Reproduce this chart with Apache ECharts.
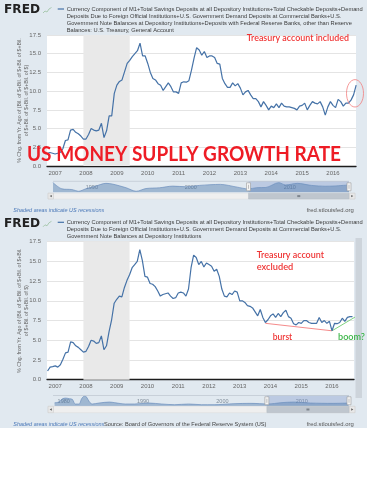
<!DOCTYPE html>
<html>
<head>
<meta charset="utf-8">
<script src="https://cdn.jsdelivr.net/npm/echarts@6/dist/echarts.min.js"></script>
<style>
html,body{margin:0;padding:0;background:#fff;}
#c{width:367px;height:480px;background:linear-gradient(#e1e9f0 0,#e1e9f0 428px,#fff 428px,#fff 480px);}
</style>
</head>
<body>
<div id="c"></div>
<script>
// ---------------- data ----------------
const seriesStartYear = 2006, seriesStartMonth = 10;
const xTickYears = [2007, 2008, 2009, 2010, 2011, 2012, 2013, 2014, 2015, 2016];
const yTickStep = 2.5, yMin = 0, yMax = 17.5;
// Treasury account included (Oct 2006 .. Oct 2016)
const topValues = [
  1.7, 1.8, 1.7,
  1.6, 1.7, 1.8, 2.3, 3.4, 3.5, 4.8, 4.9, 4.5, 4.3, 4.0, 3.6,
  3.6, 4.2, 5.0, 4.8, 4.7, 4.8, 5.7, 3.8, 4.7, 6.7, 6.7, 9.7,
  10.8, 11.3, 11.5, 12.6, 13.7, 14.1, 14.6, 15.0, 15.4, 16.4, 14.7, 14.7,
  13.7, 12.5, 11.7, 11.5, 11.0, 10.8, 10.1, 10.6, 11.1, 10.6, 9.9, 9.9,
  9.7, 11.1, 11.25, 11.2, 11.4, 12.8, 14.4, 15.8, 15.5, 14.8, 15.3, 14.5,
  14.7, 14.7, 14.5, 13.7, 13.6, 11.7, 11.0, 10.5, 10.5, 11.1, 10.7, 11.0,
  10.4, 9.5, 9.9, 10.1, 9.5, 9.0, 9.0, 8.6, 7.9, 8.6, 8.1, 7.5,
  8.0, 7.8, 8.3, 7.8, 8.4, 8.0, 7.9, 7.9, 7.8, 7.7, 7.5, 8.0,
  8.1, 8.4, 7.5, 8.1, 8.6, 8.4, 8.3, 8.6, 7.9, 6.8, 7.9, 8.6,
  8.1, 7.8, 8.9, 8.6, 8.0, 8.4, 8.4, 8.8, 9.5, 10.8
];
// Treasury account excluded (Oct 2006 .. Sep 2016)
const bottomValues = [
  1.1, 1.6, 1.65,
  1.75, 1.6, 1.9, 2.6, 3.4, 3.5, 4.8, 4.7, 4.3, 4.1, 3.8, 3.5,
  3.6, 4.2, 5.0, 4.9, 4.6, 4.7, 5.55, 3.8, 4.3, 6.1, 7.6, 9.7,
  10.2, 10.6, 10.5, 11.7, 12.6, 13.3, 14.2, 14.6, 15.0, 16.5, 15.1, 13.1,
  13.0, 12.2, 12.1, 11.8, 11.25, 10.6, 10.8, 10.9, 11.0, 10.6, 10.3, 10.4,
  11.0, 11.1, 11.0, 10.6, 11.5, 14.2, 15.8, 15.5, 14.6, 15.0, 14.3, 14.8,
  14.6, 14.4, 13.75, 14.0, 13.1, 11.5, 10.6, 10.5, 11.0, 10.8, 11.25, 11.1,
  10.0, 10.0, 9.8, 9.4, 9.3, 9.1, 8.6, 8.1, 8.9, 7.9, 7.25, 7.6,
  8.1, 8.35, 7.9, 8.4, 8.0, 8.5, 8.8, 8.0, 7.8, 7.1, 6.95, 7.25,
  7.15, 7.5, 7.5, 7.25, 7.15, 7.15, 7.15, 7.9, 7.25, 7.5, 7.15, 7.4,
  6.2, 7.15, 7.1, 7.25, 7.8, 7.4, 7.9, 8.0, 8.0
];
const recession = ['2007-12', '2009-06'];
const burstLine = [['2013-11', 7.15], ['2016-01', 6.2]];
const boomLine = [['2016-01', 6.2], ['2016-12', 8.33]];
// navigator (full history, coarse)
const navTopYears  = [1987.0, 1987.9, 1988.9, 1989.6, 1990.3, 1991.3, 1992.35, 1993.0, 1994.4, 1995.4, 1996.4, 1997.75, 1999.1, 2000.5, 2001.8, 2003.9, 2005.6, 2006.7, 2007.6, 2008.5, 2009.8, 2010.5, 2011.7, 2013.1, 2014.5, 2015.4, 2016.9];
const navTopValues = [16.4, 1.7, 0.1, -4.0, 1.7, 8.2, 14.7, 13.1, 4.2, -4.0, 2.5, 4.2, 8.2, 6.6, 9.9, 12.3, 5.8, 1.7, 4.5, 5.0, 16.4, 11.0, 14.7, 9.9, 8.0, 8.5, 11.0];
const navBottomYears  = [1980.0, 1980.5, 1981.0, 1981.4, 1981.9, 1982.25, 1982.6, 1983.1, 1983.4, 1983.75, 1984.0, 1984.4, 1984.75, 1985.6, 1986.9, 1987.6, 1988.9, 1990.1, 1991.9, 1993.5, 1995.1, 1996.9, 1998.5, 2000.1, 2002.6, 2004.75, 2006.9, 2008.5, 2010.1, 2012.25, 2015.1, 2017.0];
const navBottomValues = [10, 16.5, 41.8, 46.9, 41.8, 36.7, 1.3, 1.3, 41.8, 62.0, 57.0, 16.5, 1.3, 8.9, 16.5, 11.4, 1.3, 1.3, 8.9, 1.3, -3.8, 1.3, -3.8, -3.8, 3.8, 6.4, 1.3, 11.4, 16.5, 8.9, 6.4, 8.9];
const navLabelYears = [1980, 1990, 2000, 2010];
const navTopWindow = [2006.75, 2016.9];
const navBottomWindow = [2006.75, 2017.1];

const legendTop = [
  'Currency Component of M1+Total Savings Deposits at all Depository Institutions+Total Checkable Deposits+Demand',
  'Deposits Due to Foreign Official Institutions+U.S. Government Demand Deposits at Commercial Banks+U.S.',
  'Government Note Balances at Depository Institutions+Deposits with Federal Reserve Banks, other than Reserve',
  'Balances: U.S. Treasury, General Account'
];
const legendBottom = [
  'Currency Component of M1+Total Savings Deposits at all Depository Institutions+Total Checkable Deposits+Demand',
  'Deposits Due to Foreign Official Institutions+U.S. Government Demand Deposits at Commercial Banks+U.S.',
  'Government Note Balances at Depository Institutions'
];
const yNameTop = '% Chg. from Yr. Ago of (Bil. of $+Bil. of $+Bil. of $+Bil.\nof $+Bil. of $+Bil. of $+Bil. of $)';
const yNameBottom = '% Chg. from Yr. Ago of (Bil. of $+Bil. of $+Bil. of $+Bil.\nof $+Bil. of $+Bil. of $)';
const bigTitle = 'US MONEY SUPLLY GROWTH RATE';

// ---------------- helpers ----------------
function ym(s) { const [y, m] = s.split('-').map(Number); return y + (m - 1) / 12; }
function monthly(vals) { return vals.map((v, i) => [seriesStartYear + (seriesStartMonth - 1 + i) / 12, v]); }
function zip(xs, ys) { return xs.map((x, i) => [x, ys[i]]); }
const BLUE = '#4572a7';
const FONT = 'Liberation Sans';

function mainX(grid, range) {
  return {
    type: 'value', gridIndex: grid, min: range[0], max: range[1],
    axisLine: { show: true, onZero: false, lineStyle: { color: '#1c1c1c', width: 1.3 } },
    axisTick: { show: false }, splitLine: { show: false },
    axisLabel: {
      customValues: xTickYears,
      formatter: v => String(Math.round(v)),
      fontSize: 6, color: '#666', margin: 4, fontFamily: FONT, hideOverlap: false
    }
  };
}
function mainY(grid, name) {
  return {
    type: 'value', gridIndex: grid, min: yMin, max: yMax, interval: yTickStep,
    axisLine: { show: false }, axisTick: { show: false },
    splitLine: { lineStyle: { color: '#e4e4e4', width: 1 } },
    axisLabel: { formatter: v => v.toFixed(1), fontSize: 6, color: '#666', margin: 6, fontFamily: FONT },
    name: name, nameLocation: 'middle', nameRotate: 90, nameGap: 17, nameMoveOverlap: false,
    nameTextStyle: { fontSize: 5.2, lineHeight: 7, color: '#666', fontFamily: FONT }
  };
}
function navX(grid, lo, hi) {
  return {
    type: 'value', gridIndex: grid, min: lo, max: hi,
    axisLine: { show: false }, axisTick: { show: false }, splitLine: { show: false },
    axisLabel: {
      inside: true, customValues: navLabelYears.filter(y => y >= lo && y <= hi),
      formatter: v => String(v), fontSize: 5.5, color: '#7f8c99', margin: 1.5,
      align: 'left', padding: [0, 0, 0, 3], fontFamily: FONT
    }
  };
}

const chart = echarts.init(document.getElementById('c'), null, { renderer: 'canvas' });
const option = {
  backgroundColor: 'transparent',
  animation: false,
  grid: [
    { left: 47, top: 35, width: 309, height: 131, show: true, backgroundColor: '#fff', borderWidth: 0 },
    { left: 47, top: 241.7, width: 307, height: 138, show: true, backgroundColor: '#fff', borderWidth: 0 },
    { left: 53, top: 181.3, width: 296, height: 11 },
    { left: 53, top: 395.5, width: 296, height: 10.5 }
  ],
  xAxis: [
    mainX(0, [2006.737, 2016.745]),
    mainX(1, [2006.732, 2016.715]),
    navX(2, 1987.0, 2016.9),
    navX(3, 1979.8, 2017.1)
  ],
  yAxis: [
    mainY(0, yNameTop),
    mainY(1, yNameBottom),
    { type: 'value', gridIndex: 2, min: -6.4, max: 19.6, show: false },
    { type: 'value', gridIndex: 3, min: -13.9, max: 67, show: false }
  ],
  series: [
    {
      type: 'line', xAxisIndex: 0, yAxisIndex: 0, data: monthly(topValues), showSymbol: false,
      lineStyle: { color: BLUE, width: 1.2 }, itemStyle: { color: BLUE },
      markArea: { silent: true, itemStyle: { color: '#e9e9e9' }, data: [[{ xAxis: ym(recession[0]) }, { xAxis: ym(recession[1]) }]] }
    },
    {
      type: 'line', xAxisIndex: 1, yAxisIndex: 1, data: monthly(bottomValues), showSymbol: false,
      lineStyle: { color: BLUE, width: 1.2 }, itemStyle: { color: BLUE },
      markArea: { silent: true, itemStyle: { color: '#e9e9e9' }, data: [[{ xAxis: ym(recession[0]) }, { xAxis: ym(recession[1]) }]] }
    },
    {
      type: 'line', xAxisIndex: 1, yAxisIndex: 1, data: burstLine.map(p => [ym(p[0]), p[1]]), showSymbol: false, z: 1,
      lineStyle: { color: '#f58b8b', width: 1 }
    },
    {
      type: 'line', xAxisIndex: 1, yAxisIndex: 1, data: boomLine.map(p => [ym(p[0]), p[1]]), showSymbol: false, clip: false, z: 1,
      lineStyle: { color: '#7fd37f', width: 1 }
    },
    {
      type: 'line', xAxisIndex: 2, yAxisIndex: 2, data: zip(navTopYears, navTopValues), showSymbol: false, smooth: 0.3,
      lineStyle: { color: '#6d8fbd', width: 0.7 }, areaStyle: { color: 'rgba(69,114,167,0.6)', origin: 'start' },
      markArea: { silent: true, itemStyle: { color: 'rgba(102,133,194,0.3)' }, data: [[{ xAxis: navTopWindow[0] }, { xAxis: navTopWindow[1] }]] }
    },
    {
      type: 'line', xAxisIndex: 3, yAxisIndex: 3, data: zip(navBottomYears, navBottomValues), showSymbol: false, smooth: 0.3,
      lineStyle: { color: '#6d8fbd', width: 0.7 }, areaStyle: { color: 'rgba(69,114,167,0.6)', origin: 'start' },
      markArea: { silent: true, itemStyle: { color: 'rgba(102,133,194,0.3)' }, data: [[{ xAxis: navBottomWindow[0] }, { xAxis: navBottomWindow[1] }]] }
    }
  ]
};
chart.setOption(option);

// ---------------- decorations ----------------
const M = document.createElement('canvas').getContext('2d');
function measure(text, size, fam, wt, st) { M.font = `${st || 'normal'} ${wt || 'normal'} ${size}px ${fam}`; return M.measureText(text).width; }
function T(text, x, y, o) {
  const fam = o.family || FONT, wt = o.weight || 'normal', st = o.style || 'normal';
  let sx = o.sx || 1;
  if (o.w) sx = o.w / measure(text, o.size, fam, wt, st);
  return { type: 'text', x: x, y: y, scaleX: sx, z: 20,
    style: { text: text, fontSize: o.size, fontFamily: fam, fontWeight: wt, fontStyle: st, fill: o.fill || '#333', align: o.align || 'left', verticalAlign: 'middle' } };
}
const legSize = 5.6;
const legSx = 296 / measure(legendTop[0], legSize, FONT);
const G = [];
function header(y0, lines, logoY) {
  G.push(T('FRED', 4, logoY, { size: 12.3, family: 'DejaVu Sans', weight: 'bold', fill: '#222', w: 36 }));
  G.push({ type: 'polyline', z: 20, shape: { points: [[43, 13], [45, 11], [47, 12], [49, 9], [51.5, 7.5]].map(p => [p[0], p[1] + logoY - 9.8]) }, style: { stroke: '#a9c9b0', lineWidth: 1, fill: null } });
  G.push({ type: 'line', z: 20, shape: { x1: 57.7, y1: y0, x2: 64, y2: y0 }, style: { stroke: BLUE, lineWidth: 1.2 } });
  lines.forEach((t, i) => G.push(T(t, 66.7, y0 + i * 7.15, { size: legSize, sx: legSx, fill: '#3a3a3a' })));
}
header(9, legendTop, 9.8);
header(222.3, legendBottom, 223.6);

function footer(y, withSource) {
  G.push(T('Shaded areas indicate US recessions', 13.3, y, { size: 5.5, style: 'italic', fill: '#4a78b8', w: 91 }));
  if (withSource) G.push(T('Source: Board of Governors of the Federal Reserve System (US)', 104, y, { size: 5.5, fill: '#444', w: 162.5 }));
  G.push(T('fred.stlouisfed.org', 306.7, y, { size: 5.5, fill: '#555', w: 47 }));
}
footer(210, false);
footer(424.8, true);

function navChrome(xAxisIdx, win, navTop, navBot, sbTop, sbH) {
  const x0 = 53, x1 = 349;
  const a = chart.convertToPixel({ xAxisIndex: xAxisIdx }, win[0]);
  const b = Math.min(chart.convertToPixel({ xAxisIndex: xAxisIdx }, win[1]), x1);
  G.push({ type: 'line', z: 15, shape: { x1: x0, y1: navTop, x2: x1, y2: navTop }, style: { stroke: '#b7c0ca', lineWidth: 0.6 } });
  G.push({ type: 'rect', z: 15, shape: { x: 48, y: sbTop, width: 307, height: sbH }, style: { fill: '#efefef', stroke: '#dddddd', lineWidth: 0.5 } });
  G.push({ type: 'rect', z: 16, shape: { x: a, y: sbTop, width: b - a, height: sbH }, style: { fill: '#bfc6ce', stroke: '#b5bcc4', lineWidth: 0.5 } });
  G.push({ type: 'rect', z: 17, shape: { x: (a + b) / 2 - 1.5, y: sbTop + sbH / 2 - 1, width: 3, height: 2 }, style: { fill: '#7d858e' } });
  [[48, 1], [349.5, -1]].forEach(([bx, dir]) => {
    G.push({ type: 'rect', z: 17, shape: { x: bx, y: sbTop, width: 5.5, height: sbH }, style: { fill: '#e8e8e8', stroke: '#c8c8c8', lineWidth: 0.5 } });
    const cx = bx + 2.75, cy = sbTop + sbH / 2;
    G.push({ type: 'polygon', z: 18, shape: { points: [[cx + dir * 1, cy - 1.2], [cx + dir * 1, cy + 1.2], [cx - dir * 1, cy]] }, style: { fill: '#555' } });
  });
  [a, b].forEach(hx => {
    const hy = (navTop + navBot) / 2;
    G.push({ type: 'rect', z: 18, shape: { x: hx - 2, y: hy - 4, width: 4, height: 8 }, style: { fill: '#f4f4f4', stroke: '#9a9a9a', lineWidth: 0.6 } });
    G.push({ type: 'line', z: 19, shape: { x1: hx, y1: hy - 2, x2: hx, y2: hy + 2 }, style: { stroke: '#888', lineWidth: 0.5 } });
  });
}
navChrome(2, navTopWindow, 181.3, 192.3, 193.2, 5.8);
navChrome(3, navBottomWindow, 395.5, 406, 406.3, 6.4);

// page scrollbar strip at right of lower panel
G.push({ type: 'rect', z: 5, shape: { x: 355.5, y: 238, width: 6.5, height: 160 }, style: { fill: '#cdd4db' } });

G.push(T(bigTitle, 27, 155, { size: 20, family: 'Lato', weight: 'bold', fill: '#ee1c25', w: 314 }));
G.push(T('Treasury account included', 246.7, 38.5, { size: 9, family: 'Lato', weight: 600, fill: '#ef3434', w: 102.3 }));
G.push(T('Treasury account', 256.7, 255.2, { size: 9, family: 'Lato', weight: 600, fill: '#ef3434', w: 67.3 }));
G.push(T('excluded', 256.7, 266.8, { size: 9, family: 'Lato', weight: 600, fill: '#ef3434', w: 36.6 }));
G.push(T('burst', 272.7, 336.8, { size: 9, family: 'Lato', weight: 600, fill: '#ef3434', w: 19.5 }));
G.push(T('boom?', 338, 336.8, { size: 9, family: 'Lato', weight: 600, fill: '#3db64a', w: 27 }));
G.push({ type: 'ellipse', z: 20, shape: { cx: 355, cy: 93.3, rx: 8.5, ry: 13.7 }, style: { fill: null, stroke: '#f27d7d', lineWidth: 0.8 } });

chart.setOption({ graphic: { elements: G } });
</script>
</body>
</html>
